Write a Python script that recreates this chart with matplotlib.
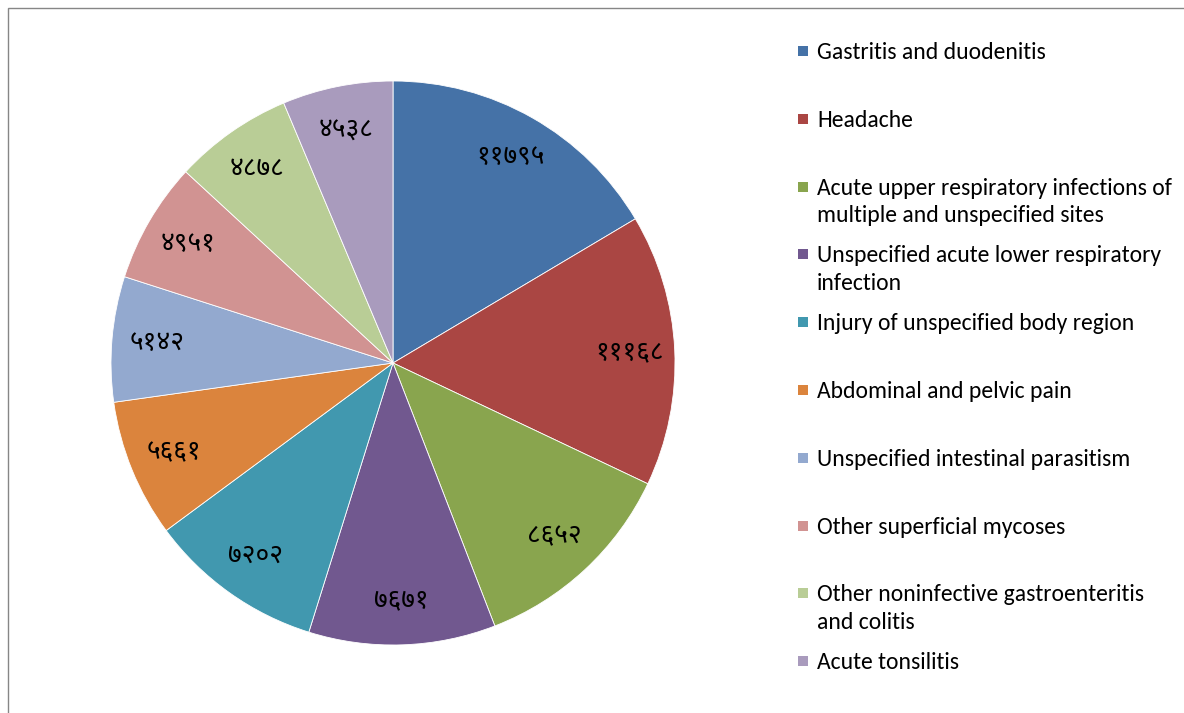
import matplotlib
matplotlib.use('Agg')
import matplotlib.pyplot as plt
from matplotlib import font_manager
from matplotlib.patches import Rectangle

# data
labels = [
    'Gastritis and duodenitis',
    'Headache',
    'Acute upper respiratory infections of\nmultiple and unspecified sites',
    'Unspecified acute lower respiratory\ninfection',
    'Injury of unspecified body region',
    'Abdominal and pelvic pain',
    'Unspecified intestinal parasitism',
    'Other superficial mycoses',
    'Other noninfective gastroenteritis\nand colitis',
    'Acute tonsilitis',
]
values = [11795, 11168, 8652, 7671, 7202, 5661, 5142, 4951, 4878, 4538]
value_labels = ['११७९५', '१११६८', '८६५२', '७६७१', '७२०२',
                '५६६१', '५१४२', '४९५१', '४८७८', '४५३८']
colors = ['#4572A7', '#AA4643', '#89A54E', '#71588F', '#4198AF',
          '#DB843D', '#93A9CF', '#D19392', '#B9CD96', '#A99BBD']


def pick_font(prefs, fallback):
    names = {f.name for f in font_manager.fontManager.ttflist}
    for p in prefs:
        if p in names:
            return p
    return fallback


deva_font = pick_font(['Mangal', 'Noto Sans Devanagari', 'Lohit Devanagari',
                       'Noto Serif Devanagari', 'Annapurna SIL', 'Hind', 'Mukta'],
                      'Annapurna SIL')
text_font = pick_font(['Calibri', 'Carlito', 'Lato', 'Open Sans'], 'DejaVu Sans')

W, H = 1184, 713
fig = plt.figure(figsize=(W / 100, H / 100), dpi=100)

# chart frame
fig.patches.append(Rectangle((8 / W, -0.01), 1.0, (H - 8) / H + 0.01,
                             transform=fig.transFigure, fill=False,
                             edgecolor='#868686', linewidth=1.0))

cx, cy, r = 393, 363, 282
ax = fig.add_axes([(cx - r) / W, (H - cy - r) / H, 2 * r / W, 2 * r / H])
wedges, texts = ax.pie(values, colors=colors, startangle=90, counterclock=False,
                       labels=value_labels, labeldistance=0.84,
                       wedgeprops=dict(linewidth=0.6, edgecolor='white'),
                       textprops=dict(family=[deva_font, 'DejaVu Sans'],
                                      fontsize=19, color='black',
                                      ha='center', va='center'))
for t in texts:
    t.set_horizontalalignment('center')
ax.set_xlim(-1, 1)
ax.set_ylim(-1, 1)
ax.set_aspect('equal')

# legend
x_box, x_text = 798, 817
y0, step = 51, 67.8
for i, (lab, c) in enumerate(zip(labels, colors)):
    y = y0 + i * step
    fig.patches.append(Rectangle((x_box / W, 1 - (y + 5) / H), 10 / W, 10 / H,
                                 transform=fig.transFigure, facecolor=c,
                                 edgecolor='none'))
    fig.text(x_text / W, 1 - (y - 9) / H, lab, family=[text_font, 'DejaVu Sans'],
             fontsize=17, va='top', ha='left', color='black', linespacing=1.4)

fig.savefig('out.png', dpi=100)
